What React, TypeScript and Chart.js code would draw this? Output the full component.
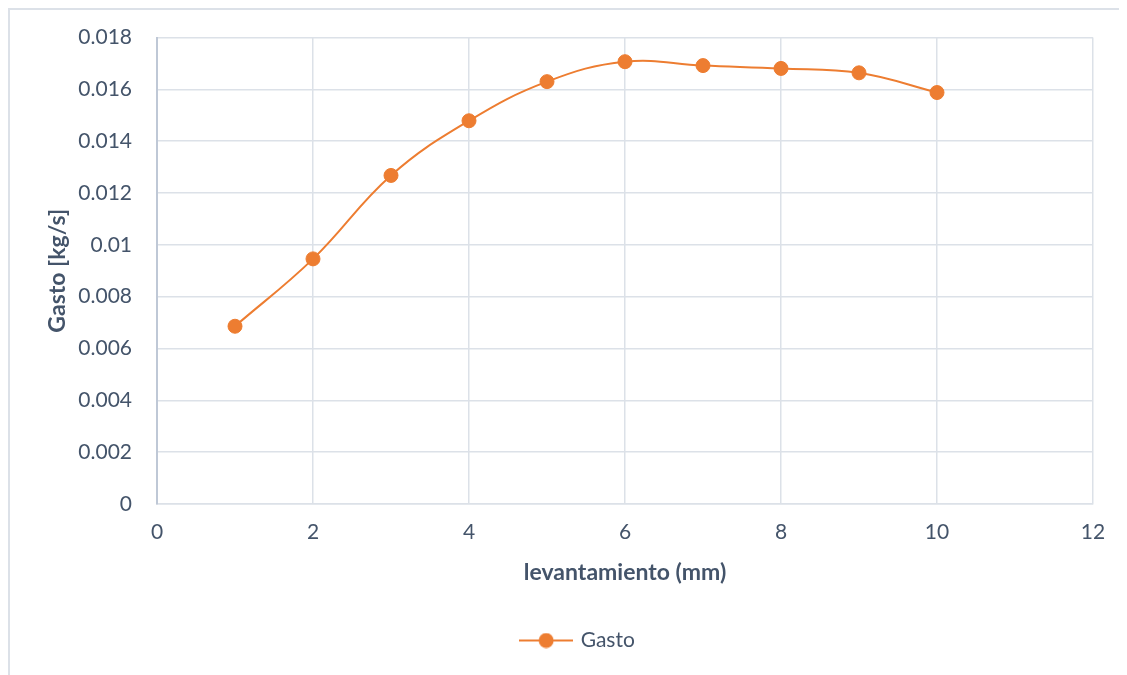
import React, { useEffect, useRef } from "react";
import { Chart, registerables } from "chart.js";

Chart.register(...registerables);

// Lift (mm) and mass flow (kg/s)
const levantamiento = [1, 2, 3, 4, 5, 6, 7, 8, 9, 10];
const gasto = [0.00686, 0.00946, 0.01268, 0.01479, 0.0163, 0.01707, 0.01692, 0.01681, 0.01664, 0.01588];

const seriesName = "Gasto";
const xTitle = "levantamiento (mm)";
const yTitle = "Gasto [kg/s]";

const textColor = "#44546A";
const gridColor = "#DCE1E8";
const lineColor = "#ED7D31";
const fontFamily = "Lato, 'Open Sans', sans-serif";

const fmt = (v: number) => String(Number(Number(v).toFixed(4)));

// Legend marker: short line with a circle in the middle
function makeLegendMarker(): HTMLCanvasElement {
  const c = document.createElement("canvas");
  c.width = 54;
  c.height = 16;
  const ctx = c.getContext("2d")!;
  ctx.strokeStyle = lineColor;
  ctx.lineWidth = 2;
  ctx.beginPath();
  ctx.moveTo(0, 8);
  ctx.lineTo(54, 8);
  ctx.stroke();
  ctx.fillStyle = lineColor;
  ctx.beginPath();
  ctx.arc(27, 8, 7.5, 0, Math.PI * 2);
  ctx.fill();
  return c;
}

// Nudges the legend box sideways after layout
const legendShift = {
  id: "legendShift",
  afterLayout(chart: any) {
    const lg = chart.legend;
    if (lg) {
      lg.left += 27;
      lg.right += 27;
    }
  },
};

export default function App() {
  const canvasRef = useRef<HTMLCanvasElement | null>(null);

  useEffect(() => {
    const canvas = canvasRef.current;
    if (!canvas) return;
    const marker = makeLegendMarker();
    const chart = new Chart(canvas, {
      type: "line",
      data: {
        datasets: [
          {
            label: seriesName,
            data: levantamiento.map((x, i) => ({ x, y: gasto[i] })),
            borderColor: lineColor,
            backgroundColor: lineColor,
            borderWidth: 2,
            pointRadius: 7,
            pointHoverRadius: 7,
            pointBorderWidth: 1,
            pointBorderColor: lineColor,
            pointBackgroundColor: lineColor,
            tension: 0.4,
            fill: false,
          },
        ],
      },
      plugins: [legendShift],
      options: {
        animation: false,
        responsive: false,
        maintainAspectRatio: false,
        layout: { padding: { top: 13, right: 34, left: 0, bottom: 14 } },
        plugins: {
          tooltip: { enabled: false },
          legend: {
            position: "bottom",
            labels: {
              color: textColor,
              font: { family: fontFamily, size: 21 },
              usePointStyle: true,
              pointStyleWidth: 48,
              padding: 10,
              generateLabels: () => [
                {
                  text: seriesName,
                  fillStyle: lineColor,
                  strokeStyle: lineColor,
                  lineWidth: 0,
                  pointStyle: marker,
                  fontColor: textColor,
                  datasetIndex: 0,
                  hidden: false,
                } as any,
              ],
            },
          },
        },
        scales: {
          x: {
            type: "linear",
            min: 0,
            max: 12,
            ticks: {
              stepSize: 2,
              color: textColor,
              font: { family: fontFamily, size: 21 },
              padding: 16,
              callback: (v) => fmt(Number(v)),
            },
            grid: { color: gridColor, lineWidth: 1.5, drawTicks: false },
            border: { color: gridColor, width: 1.5 },
            title: {
              display: true,
              text: xTitle,
              color: textColor,
              font: { family: fontFamily, size: 23, weight: "bold" },
              padding: { top: 10, bottom: 34 },
            },
            afterFit: (scale: any) => {
              scale.height = 116;
            },
          },
          y: {
            type: "linear",
            min: 0,
            max: 0.018,
            ticks: {
              stepSize: 0.002,
              color: textColor,
              font: { family: fontFamily, size: 21 },
              padding: 25,
              callback: (v) => fmt(Number(v)),
            },
            grid: { color: gridColor, lineWidth: 1.5, drawTicks: false },
            border: { color: "#BFC8D6", width: 2 },
            title: {
              display: true,
              text: yTitle,
              color: textColor,
              font: { family: fontFamily, size: 23, weight: "bold" },
              padding: { top: 34, bottom: 0 },
            },
            afterFit: (scale: any) => {
              scale.width = 147;
            },
          },
        },
      },
    });
    return () => chart.destroy();
  }, []);

  return (
    <div
      style={{
        position: "relative",
        width: 1119,
        height: 667,
        borderLeft: "2px solid #DCE1E8",
        borderTop: "2px solid #DCE1E8",
        boxSizing: "border-box",
        overflow: "hidden",
      }}
    >
      <canvas
        ref={canvasRef}
        width={1117}
        height={675}
        style={{ display: "block", position: "absolute", left: 0, top: -10 }}
      />
    </div>
  );
}
